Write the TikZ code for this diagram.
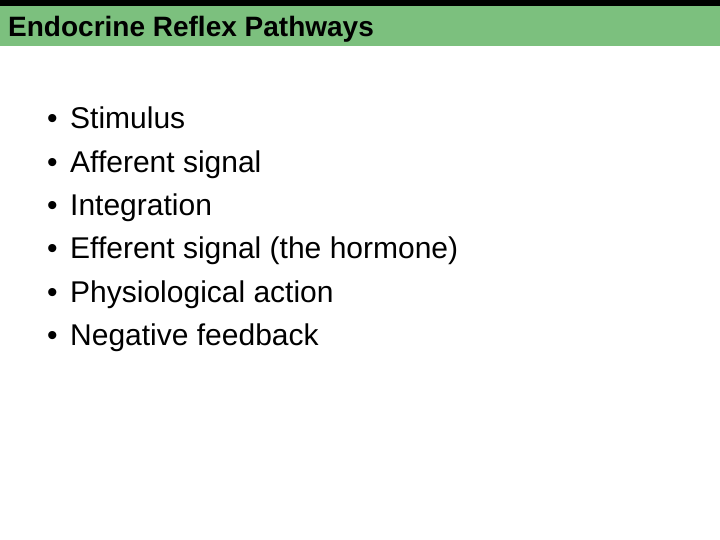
\documentclass[tikz,border=0pt]{standalone}
\usepackage{fontspec}
\setmainfont{Liberation Sans}
\definecolor{bar}{HTML}{7CC07E}
\begin{document}
\begin{tikzpicture}[x=1pt,y=-1pt,
  item/.style={anchor=base west,inner sep=0pt,font=\fontsize{30}{34}\selectfont},
  dot/.style={anchor=base west,inner sep=0pt,font=\fontsize{30}{34}\selectfont}]
\useasboundingbox (0,0) rectangle (720,540);
\fill[white] (0,0) rectangle (720,540);
\fill[black] (0,0) rectangle (720,6);
\fill[bar] (0,6) rectangle (720,46);
\node[anchor=base west,inner sep=0pt,font=\fontsize{28}{32}\selectfont\bfseries] (title) at (8,37) {Endocrine Reflex Pathways};
\foreach \t [count=\i] in {Stimulus,Afferent signal,Integration,Efferent signal (the hormone),Physiological action,Negative feedback}{
  \node[dot] (b\i) at (47,129+43.3*\i-43.3) {•};
  \node[item] (t\i) at (70,129+43.3*\i-43.3) {\t};
}
\end{tikzpicture}
\end{document}
